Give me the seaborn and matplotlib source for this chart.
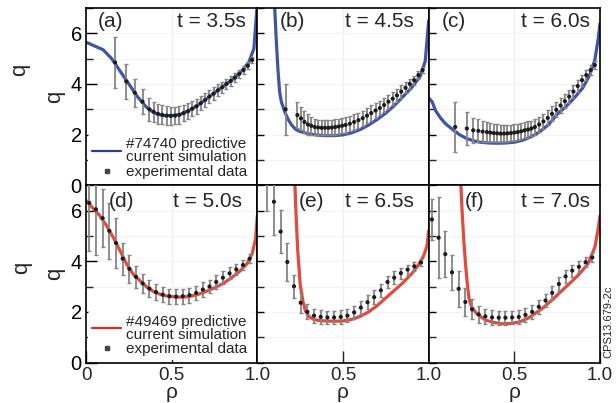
import matplotlib
matplotlib.use("Agg")
import matplotlib.pyplot as plt
from matplotlib.lines import Line2D
from matplotlib.ticker import MultipleLocator
import seaborn as sns

# ---------------- data ----------------
# (a) #74740, t = 3.5 s
rho_a_sim = [0.0, 0.05, 0.10, 0.15, 0.20, 0.25, 0.30, 0.35, 0.40, 0.45, 0.50, 0.55,
             0.60, 0.65, 0.70, 0.75, 0.80, 0.85, 0.90, 0.95, 0.98, 1.0]
q_a_sim = [5.65, 5.5, 5.35, 5.0, 4.5, 4.0, 3.5, 3.1, 2.85, 2.75, 2.75, 2.8,
           2.95, 3.15, 3.4, 3.65, 3.9, 4.15, 4.45, 4.85, 5.4, 7.2]
rho_a_exp = [0.17, 0.235, 0.285, 0.33, 0.37, 0.395, 0.42, 0.445, 0.47, 0.495, 0.52,
             0.545, 0.57, 0.595, 0.62, 0.645, 0.67, 0.695, 0.72, 0.745, 0.77, 0.795,
             0.82, 0.845, 0.87, 0.895, 0.92, 0.945, 0.97]
q_a_exp = [4.85, 4.1, 3.65, 3.3, 3.0, 2.9, 2.82, 2.78, 2.75, 2.74, 2.75, 2.78, 2.85,
           2.92, 3.02, 3.12, 3.24, 3.36, 3.5, 3.62, 3.75, 3.87, 4.0, 4.12, 4.25, 4.4,
           4.55, 4.72, 4.95]
err_a = [1.0, 0.7, 0.55, 0.5, 0.45, 0.4, 0.4, 0.38, 0.38, 0.36, 0.35, 0.35, 0.33,
         0.32, 0.3, 0.3, 0.28, 0.27, 0.26, 0.25, 0.24, 0.22, 0.2, 0.2, 0.18, 0.17,
         0.15, 0.14, 0.12]

# (b) #74740, t = 4.5 s
rho_b_sim = [0.10, 0.11, 0.12, 0.13, 0.14, 0.16, 0.18, 0.20, 0.225, 0.25, 0.30, 0.35,
             0.40, 0.45, 0.50, 0.55, 0.60, 0.65, 0.70, 0.75, 0.80, 0.85, 0.90, 0.95,
             0.98, 1.0]
q_b_sim = [7.2, 5.8, 4.6, 3.7, 3.3, 2.9, 2.6, 2.38, 2.2, 2.12, 2.03, 1.98,
           1.96, 1.96, 1.99, 2.07, 2.2, 2.38, 2.6, 2.85, 3.15, 3.5, 3.85, 4.3,
           4.9, 6.5]
rho_b_exp = [0.165, 0.234, 0.255, 0.275, 0.295, 0.315, 0.335, 0.355, 0.375, 0.395,
             0.415, 0.435, 0.455, 0.475, 0.495, 0.515, 0.54, 0.565, 0.59, 0.615,
             0.64, 0.665, 0.69, 0.715, 0.74, 0.765, 0.79, 0.815, 0.84, 0.865, 0.89,
             0.915, 0.94, 0.965]
q_b_exp = [3.0, 2.77, 2.64, 2.5, 2.4, 2.35, 2.3, 2.28, 2.27, 2.27, 2.27, 2.28, 2.3,
           2.32, 2.35, 2.38, 2.43, 2.5, 2.57, 2.65, 2.75, 2.85, 2.95, 3.05, 3.17,
           3.3, 3.42, 3.55, 3.7, 3.85, 4.0, 4.15, 4.35, 4.55]
err_b = [1.0, 0.5, 0.45, 0.42, 0.4, 0.35, 0.33, 0.3, 0.3, 0.3, 0.3, 0.3, 0.3, 0.3,
         0.3, 0.3, 0.3, 0.3, 0.3, 0.3, 0.3, 0.3, 0.3, 0.28, 0.28, 0.27, 0.26, 0.25,
         0.24, 0.22, 0.2, 0.18, 0.15, 0.12]

# (c) #74740, t = 6.0 s
rho_c_sim = [0.0, 0.02, 0.04, 0.07, 0.10, 0.14, 0.18, 0.22, 0.26, 0.30, 0.35, 0.40,
             0.45, 0.50, 0.55, 0.60, 0.65, 0.70, 0.75, 0.80, 0.85, 0.90, 0.94, 0.97,
             0.99, 1.0]
q_c_sim = [3.45, 3.3, 2.95, 2.65, 2.42, 2.2, 2.0, 1.85, 1.76, 1.7, 1.67, 1.66,
           1.67, 1.7, 1.78, 1.92, 2.12, 2.4, 2.8, 3.1, 3.45, 3.85, 4.35, 4.95,
           5.8, 6.4]
rho_c_exp = [0.155, 0.223, 0.26, 0.29, 0.315, 0.34, 0.36, 0.38, 0.40, 0.42, 0.44,
             0.46, 0.48, 0.50, 0.52, 0.54, 0.56, 0.58, 0.60, 0.62, 0.645, 0.67,
             0.695, 0.72, 0.745, 0.77, 0.795, 0.82, 0.845, 0.87, 0.895, 0.92, 0.945,
             0.97]
q_c_exp = [2.3, 2.24, 2.17, 2.15, 2.12, 2.1, 2.08, 2.06, 2.05, 2.04, 2.04, 2.05,
           2.06, 2.08, 2.1, 2.13, 2.17, 2.2, 2.24, 2.3, 2.4, 2.52, 2.66, 2.82, 2.98,
           3.15, 3.32, 3.5, 3.7, 3.92, 4.15, 4.35, 4.55, 4.75]
err_c = [1.0, 0.67, 0.5, 0.45, 0.42, 0.4, 0.38, 0.36, 0.35, 0.35, 0.34, 0.34, 0.33,
         0.33, 0.33, 0.32, 0.32, 0.32, 0.31, 0.3, 0.3, 0.3, 0.3, 0.3, 0.3, 0.28,
         0.28, 0.26, 0.25, 0.24, 0.22, 0.2, 0.18, 0.15]

# (d) #49469, t = 5.0 s
rho_d_sim = [0.0, 0.04, 0.08, 0.12, 0.16, 0.20, 0.24, 0.28, 0.32, 0.36, 0.40, 0.45,
             0.50, 0.55, 0.60, 0.65, 0.70, 0.75, 0.80, 0.85, 0.90, 0.94, 0.97, 0.99,
             1.0]
q_d_sim = [6.4, 6.1, 5.8, 5.4, 4.93, 4.4, 3.85, 3.45, 3.2, 2.95, 2.78, 2.65,
           2.6, 2.58, 2.6, 2.68, 2.8, 2.95, 3.12, 3.35, 3.62, 3.9, 4.3, 4.9, 5.8]
rho_d_exp = [0.019, 0.058, 0.097, 0.136, 0.175, 0.214, 0.253, 0.292, 0.331, 0.37,
             0.409, 0.448, 0.487, 0.526, 0.565, 0.604, 0.643, 0.682, 0.721, 0.76,
             0.799, 0.838, 0.877, 0.916, 0.955]
q_d_exp = [6.3, 6.05, 5.7, 5.2, 4.72, 4.1, 3.7, 3.38, 3.12, 2.92, 2.78, 2.68, 2.62,
           2.6, 2.62, 2.66, 2.75, 2.88, 3.0, 3.18, 3.35, 3.52, 3.68, 3.85, 4.1]
err_d = [1.9, 1.8, 1.15, 1.1, 1.0, 0.63, 0.55, 0.42, 0.38, 0.35, 0.33, 0.3, 0.3,
         0.3, 0.3, 0.3, 0.28, 0.28, 0.27, 0.26, 0.25, 0.24, 0.22, 0.2, 0.18]

# (e) #49469, t = 6.5 s
rho_e_sim = [0.218, 0.225, 0.235, 0.25, 0.265, 0.28, 0.30, 0.33, 0.36, 0.40, 0.45,
             0.50, 0.55, 0.60, 0.65, 0.70, 0.75, 0.80, 0.85, 0.90, 0.94, 0.97, 0.99,
             1.0]
q_e_sim = [7.3, 6.0, 4.5, 3.1, 2.45, 2.05, 1.82, 1.7, 1.66, 1.64, 1.63, 1.64, 1.7,
           1.82, 2.0, 2.25, 2.55, 2.85, 3.15, 3.5, 3.85, 4.2, 4.6, 5.2]
rho_e_exp = [0.058, 0.097, 0.136, 0.175, 0.214, 0.253, 0.292, 0.331, 0.37, 0.409,
             0.448, 0.487, 0.526, 0.565, 0.604, 0.643, 0.682, 0.721, 0.76, 0.799,
             0.838, 0.877, 0.916, 0.955]
q_e_exp = [7.2, 6.35, 5.17, 3.97, 3.01, 2.36, 2.0, 1.85, 1.8, 1.78, 1.78, 1.8, 1.85,
           1.98, 2.17, 2.38, 2.58, 2.85, 3.18, 3.35, 3.53, 3.67, 3.8, 3.95]
err_e = [1.2, 1.3, 0.85, 0.75, 0.45, 0.4, 0.3, 0.28, 0.27, 0.27, 0.27, 0.27, 0.27,
         0.27, 0.27, 0.27, 0.27, 0.26, 0.25, 0.25, 0.22, 0.2, 0.18, 0.15]

# (f) #49469, t = 7.0 s
rho_f_sim = [0.186, 0.195, 0.205, 0.215, 0.225, 0.235, 0.25, 0.28, 0.33, 0.38, 0.43,
             0.48, 0.53, 0.58, 0.62, 0.67, 0.72, 0.78, 0.83, 0.88, 0.93, 0.97, 0.99,
             1.0]
q_f_sim = [7.3, 6.0, 4.8, 3.9, 3.15, 2.55, 2.2, 1.93, 1.68, 1.58, 1.53, 1.54, 1.6,
           1.75, 1.93, 2.17, 2.47, 2.85, 3.17, 3.5, 3.9, 4.55, 5.3, 5.8]
rho_f_exp = [0.019, 0.058, 0.097, 0.136, 0.175, 0.214, 0.253, 0.292, 0.331, 0.37,
             0.409, 0.448, 0.487, 0.526, 0.565, 0.604, 0.643, 0.682, 0.721, 0.76,
             0.799, 0.838, 0.877, 0.916, 0.955]
q_f_exp = [5.65, 4.93, 4.28, 3.56, 2.91, 2.39, 2.1, 1.9, 1.82, 1.78, 1.77, 1.77,
           1.78, 1.8, 1.88, 2.0, 2.2, 2.45, 2.75, 3.1, 3.4, 3.63, 3.78, 3.96, 4.15]
err_f = [0.8, 1.6, 0.9, 0.7, 0.7, 0.55, 0.4, 0.35, 0.3, 0.28, 0.27, 0.27, 0.27,
         0.27, 0.27, 0.27, 0.27, 0.27, 0.27, 0.26, 0.25, 0.24, 0.22, 0.2, 0.18]

panel_tags = ["(a)", "(b)", "(c)", "(d)", "(e)", "(f)"]
panel_times = ["t = 3.5s", "t = 4.5s", "t = 6.0s", "t = 5.0s", "t = 6.5s", "t = 7.0s"]
legend_sim_labels = ["#74740 predictive\ncurrent simulation",
                     "#49469 predictive\ncurrent simulation"]
legend_exp_label = "experimental data"
x_label = "ρ"
y_label = "q"
figure_code = "CPS13.679-2c"

panels = [
    (rho_a_sim, q_a_sim, rho_a_exp, q_a_exp, err_a),
    (rho_b_sim, q_b_sim, rho_b_exp, q_b_exp, err_b),
    (rho_c_sim, q_c_sim, rho_c_exp, q_c_exp, err_c),
    (rho_d_sim, q_d_sim, rho_d_exp, q_d_exp, err_d),
    (rho_e_sim, q_e_sim, rho_e_exp, q_e_exp, err_e),
    (rho_f_sim, q_f_sim, rho_f_exp, q_f_exp, err_f),
]

# ---------------- styling ----------------
sns.set_theme(style="white")
plt.rcParams["font.family"] = ["Liberation Sans", "DejaVu Sans"]
plt.rcParams["axes.edgecolor"] = "black"
plt.rcParams["axes.linewidth"] = 1.2

BLUE = "#3f54a6"
RED = "#e24a3e"
LEG_BLUE = "#2b3d9c"
LEG_RED = "#e8252b"
BAR = "#858585"
DOT = "#1c1c1c"

tag_pos = [(0.07, 6.45), (0.128, 6.45), (0.076, 6.45),
           (0.134, 6.37), (0.244, 6.37), (0.213, 6.37)]
time_pos = [(0.934, 6.45), (0.913, 6.45), (0.94, 6.45),
            (0.913, 6.37), (0.913, 6.37), (0.94, 6.37)]

fig, axes = plt.subplots(2, 3, figsize=(6.16, 4.03), dpi=100)
fig.subplots_adjust(left=86 / 616, right=600 / 616, top=1 - 8 / 403,
                    bottom=1 - 362.5 / 403, wspace=0, hspace=0)

for i, ax in enumerate(axes.flat):
    rho_s, q_s, rho_e, q_e, err = panels[i]
    row, col = divmod(i, 3)
    line_color = BLUE if row == 0 else RED

    ax.set_facecolor("white")
    for xv in [0.5]:
        ax.axvline(xv, color="#efefef", lw=0.9, zorder=0)
    for yv in [1, 2, 3, 4, 5, 6]:
        ax.axhline(yv, color="#f3f3f3", lw=0.9, zorder=0)

    sns.lineplot(x=rho_s, y=q_s, ax=ax, color=line_color, lw=2.3,
                 estimator=None, zorder=2)
    ax.errorbar(rho_e, q_e, yerr=err, fmt="none", ecolor=BAR, elinewidth=1.3,
                capsize=1.6, capthick=1.0, zorder=3)
    sns.scatterplot(x=rho_e, y=q_e, ax=ax, color=DOT, s=9, edgecolor="none",
                    zorder=4)

    ax.set_xlim(0, 1.0)
    ax.set_ylim(0, 7.0)
    ax.yaxis.set_major_locator(MultipleLocator(2))
    ax.yaxis.set_minor_locator(MultipleLocator(1))
    ax.tick_params(axis="y", which="major", direction="in", length=8, width=1,
                   labelsize=14.5, pad=3, left=True, colors="black")
    ax.tick_params(axis="y", which="minor", direction="in", length=5, width=1,
                   left=True)
    if col != 0:
        ax.tick_params(axis="y", which="major", length=5)
        ax.tick_params(axis="y", labelleft=False)

    if row == 1:
        ax.set_xticks([0, 0.5, 1.0] if col == 0 else [0.5, 1.0])
        ax.set_xticklabels(["0", "0.5", "1.0"] if col == 0 else ["0.5", "1.0"])
        ax.tick_params(axis="x", direction="in", length=9, width=1,
                       labelsize=13.5, pad=3.5, bottom=True)
        ax.set_xlabel(x_label, fontsize=15, labelpad=-0.8)
    else:
        ax.set_xticks([])

    if col == 0:
        ax.set_ylabel(y_label, fontsize=16, labelpad=4)
    else:
        ax.set_ylabel("")

    for sp in ax.spines.values():
        sp.set_color("black")
        sp.set_linewidth(1.2)

    tx, ty = tag_pos[i]
    ax.text(tx, ty, panel_tags[i], fontsize=15, ha="left", va="center",
            zorder=6)
    mx, my = time_pos[i]
    ax.text(mx, my, panel_times[i], fontsize=15, ha="right", va="center",
            zorder=6)

    if col == 0:
        handles = [
            Line2D([], [], color=LEG_BLUE if row == 0 else LEG_RED, lw=1.6),
            Line2D([], [], ls="none", marker="s", ms=3.2, color="#444444"),
        ]
        leg = ax.legend(handles, [legend_sim_labels[row], legend_exp_label],
                        loc="lower left", bbox_to_anchor=(0.0, 0.0),
                        fontsize=11, frameon=True, framealpha=1,
                        facecolor="white", edgecolor="none", borderpad=0.25,
                        borderaxespad=0.15, handlelength=1.9,
                        handletextpad=0.35, labelspacing=0.05)
        leg.set_zorder(5)
        for t in leg.get_texts():
            t.set_linespacing(0.9)

# outer duplicate axis labels on the far left
fig.text(20 / 616, 1 - 70 / 403, y_label, rotation=90, fontsize=16,
         ha="center", va="center")
fig.text(22 / 616, 1 - 268 / 403, y_label, rotation=90, fontsize=16,
         ha="center", va="center")

fig.text(608 / 616, 1 - 322 / 403, figure_code, rotation=90, fontsize=8,
         ha="center", va="center")

fig.savefig("out.png", dpi=100, facecolor="white")
